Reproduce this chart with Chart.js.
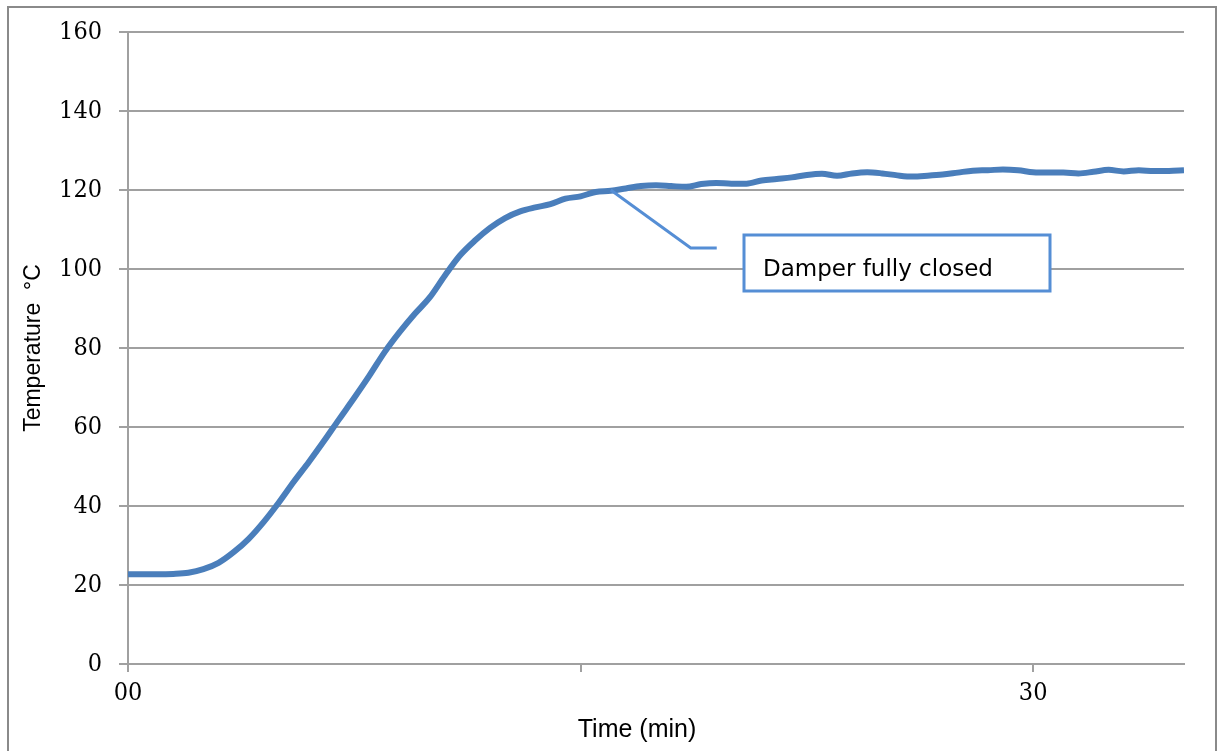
<!DOCTYPE html>
<html>
<head>
<meta charset="utf-8">
<script src="https://cdn.jsdelivr.net/npm/chart.js@4/dist/chart.umd.min.js"></script>
<style>
  html, body { margin: 0; padding: 0; background: #ffffff; }
  #wrap { position: relative; width: 1219px; height: 751px; }
  canvas { display: block; }
</style>
</head>
<body>
<div id="wrap"><canvas id="c" width="1219" height="751"></canvas></div>
<script>
// ---- data ----
const timeMin = [0, 0.5, 1, 1.5, 2, 2.5, 3, 3.5, 4, 4.5, 5, 5.5, 6, 6.5, 7, 7.5, 8, 8.5, 9, 9.5,
  10, 10.5, 11, 11.5, 12, 12.5, 13, 13.5, 14, 14.5, 15, 15.5, 16, 16.5, 17, 17.5, 18, 18.5, 19, 19.5,
  20, 20.5, 21, 21.5, 22, 22.5, 23, 23.5, 24, 24.5, 25, 25.5, 26, 26.5, 27, 27.5, 28, 28.5, 29, 29.5,
  30, 30.5, 31, 31.5, 32, 32.5, 33, 33.5, 34, 34.5, 35];
const temperature = [22.7, 22.7, 22.7, 22.8, 23.1, 24.0, 25.6, 28.3, 31.7, 36.0, 40.9, 46.2, 51.2, 56.5, 62.0, 67.4, 73.0, 78.9, 84.0, 88.6,
  92.8, 98.3, 103.4, 107.2, 110.4, 112.9, 114.6, 115.6, 116.4, 117.8, 118.4, 119.5, 119.8, 120.4, 121.0, 121.2, 121.0, 120.8, 121.5, 121.8,
  121.6, 121.6, 122.4, 122.8, 123.2, 123.8, 124.1, 123.6, 124.2, 124.5, 124.2, 123.7, 123.4, 123.6, 123.9, 124.4, 124.9, 125.0, 125.2, 125.0,
  124.5, 124.4, 124.4, 124.2, 124.6, 125.1, 124.7, 125.0, 124.8, 124.8, 125.0];
const xTickValues = [0, 15, 30];
const xTickLabels = ['00', '', '30'];
const yTickStep = 20;
const xAxisTitle = 'Time (min)';
const yAxisTitle = 'Temperature  °C';
const annotationText = 'Damper fully closed';
const annotationAnchor = { t: 16.0, v: 120 };

const GRID = '#a0a0a0';
const LINE = '#4a7ebb';
const CALLOUT = '#558ed5';

const points = timeMin.map((t, i) => ({ x: t, y: temperature[i] }));

const framePlugin = {
  id: 'frame',
  beforeDraw(chart) {
    const ctx = chart.ctx;
    ctx.save();
    ctx.fillStyle = '#ffffff';
    ctx.fillRect(0, 0, chart.width, chart.height);
    ctx.strokeStyle = '#8a8a8a';
    ctx.lineWidth = 2;
    ctx.strokeRect(8, 7, 1208, 760);
    ctx.restore();
  },
  afterDraw(chart) {
    const ctx = chart.ctx;
    ctx.save();
    ctx.fillStyle = '#000000';
    ctx.font = '25px "Liberation Sans", Arial, sans-serif';
    ctx.textAlign = 'center';
    ctx.textBaseline = 'alphabetic';
    ctx.fillText(xAxisTitle, 637, 737);
    ctx.restore();
  }
};

const calloutPlugin = {
  id: 'callout',
  afterDatasetsDraw(chart) {
    const ctx = chart.ctx;
    const xs = chart.scales.x, ys = chart.scales.y;
    const ax = xs.getPixelForValue(annotationAnchor.t);
    const ay = ys.getPixelForValue(annotationAnchor.v);
    ctx.save();
    ctx.strokeStyle = CALLOUT;
    ctx.lineWidth = 3;
    ctx.beginPath();
    ctx.moveTo(ax, ay);
    ctx.lineTo(ax + 80, ay + 58);
    ctx.lineTo(ax + 106, ay + 58);
    ctx.stroke();
    // box
    ctx.fillStyle = '#ffffff';
    ctx.fillRect(744, 235, 306, 56);
    ctx.lineWidth = 3;
    ctx.strokeRect(744, 235, 306, 56);
    ctx.fillStyle = '#000000';
    ctx.font = '23px "DejaVu Sans", Verdana, sans-serif';
    ctx.textBaseline = 'alphabetic';
    ctx.textAlign = 'left';
    ctx.fillText(annotationText, 763, 276);
    ctx.restore();
  }
};

new Chart(document.getElementById('c'), {
  type: 'line',
  data: {
    datasets: [{
      data: points,
      borderColor: LINE,
      borderWidth: 6,
      pointRadius: 0,
      tension: 0.35,
      cubicInterpolationMode: 'monotone',
      fill: false
    }]
  },
  options: {
    responsive: false,
    animation: false,
    devicePixelRatio: 1,
    layout: { padding: { left: 10, top: 29, right: 35, bottom: 0 } },
    plugins: { legend: { display: false }, tooltip: { enabled: false } },
    scales: {
      x: {
        type: 'linear',
        min: 0,
        max: 35,
        afterBuildTicks(scale) { scale.ticks = xTickValues.map(v => ({ value: v })); },
        afterFit(scale) { scale.height = 87; },
        ticks: {
          autoSkip: false,
          maxRotation: 0,
          padding: 6,
          color: '#000000',
          font: { family: '"DejaVu Serif Condensed", "DejaVu Serif", serif', size: 25 },
          callback(value) { const i = xTickValues.indexOf(value); return i >= 0 ? xTickLabels[i] : ''; }
        },
        grid: { drawOnChartArea: false, drawTicks: true, tickLength: 8, color: GRID, lineWidth: 2 },
        border: { display: true, color: GRID, width: 2 },
        title: { display: false }
      },
      y: {
        min: 0,
        max: 160,
        afterFit(scale) { scale.width = 118; },
        ticks: {
          stepSize: yTickStep,
          padding: 17,
          color: '#000000',
          font: { family: '"DejaVu Serif Condensed", "DejaVu Serif", serif', size: 25 }
        },
        grid: { drawTicks: true, tickLength: 9, color: GRID, lineWidth: 2 },
        border: { display: true, color: GRID, width: 2 },
        title: {
          display: true,
          text: yAxisTitle,
          color: '#000000',
          font: { family: '"Liberation Sans", Arial, sans-serif', size: 23 },
          padding: { top: 10, bottom: 0 }
        }
      }
    }
  },
  plugins: [framePlugin, calloutPlugin]
});
</script>
</body>
</html>
